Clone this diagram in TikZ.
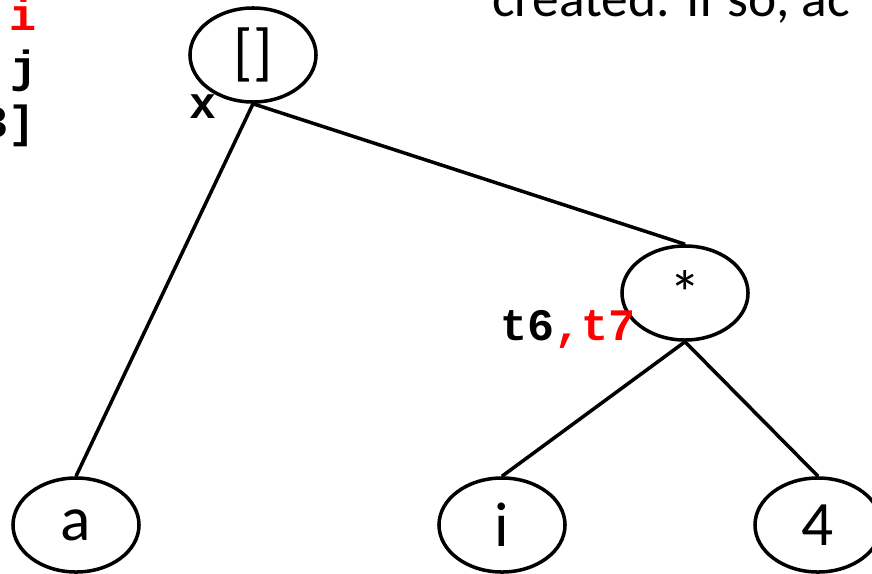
\documentclass[tikz,border=0pt]{standalone}
\usepackage{fontspec}
\setmainfont{Carlito}
\setmonofont{Liberation Mono}
\usetikzlibrary{shapes.geometric}
\definecolor{hot}{HTML}{FF0000}
\tikzset{op/.style={draw,ellipse,line width=2.5pt,minimum width=3.15cm,minimum height=2.35cm,inner sep=0pt,font=\fontsize{45}{54}\selectfont},
edge/.style={line width=2.5pt},
code/.style={font=\fontsize{32}{38}\selectfont\ttfamily\bfseries,inner sep=0pt},
prose/.style={font=\fontsize{38}{46}\selectfont,inner sep=0pt}}

\begin{document}
\begin{tikzpicture}[x=0.025cm,y=-0.025cm]
\useasboundingbox (0,0) rectangle (872,573);
\clip (0,0) rectangle (872,573);
% tree nodes
\node[op] (idx) at (253,55) {[]};
\node[op] (mul) at (685,293) {*};
\node[op] (a) at (76,525) {a};
\node[op] (i) at (502,525) {i};
\node[op] (four) at (818,525) {4};
% edges
\draw[edge] (idx.south) -- (a.north);
\draw[edge] (idx.south) -- (mul.north);
\draw[edge] (mul.south) -- (i.north);
\draw[edge] (mul.south) -- (four.north);
% names attached to nodes
\node[code,anchor=base west] (xname) at (189,118) {x};
\node[code,anchor=base west] (tname) at (500,340) {t6\textcolor{hot}{,t7}};
% cut-off slide text
\node[code,anchor=base west,text=hot] (li) at (9,30) {i};
\node[code,anchor=base west] (lj) at (10,82) {j};
\node[code,anchor=base west] (l3) at (-19,137) {3]};
\node[prose,anchor=base west] (note) at (492,16) {created. If so, ac};
\end{tikzpicture}
\end{document}
